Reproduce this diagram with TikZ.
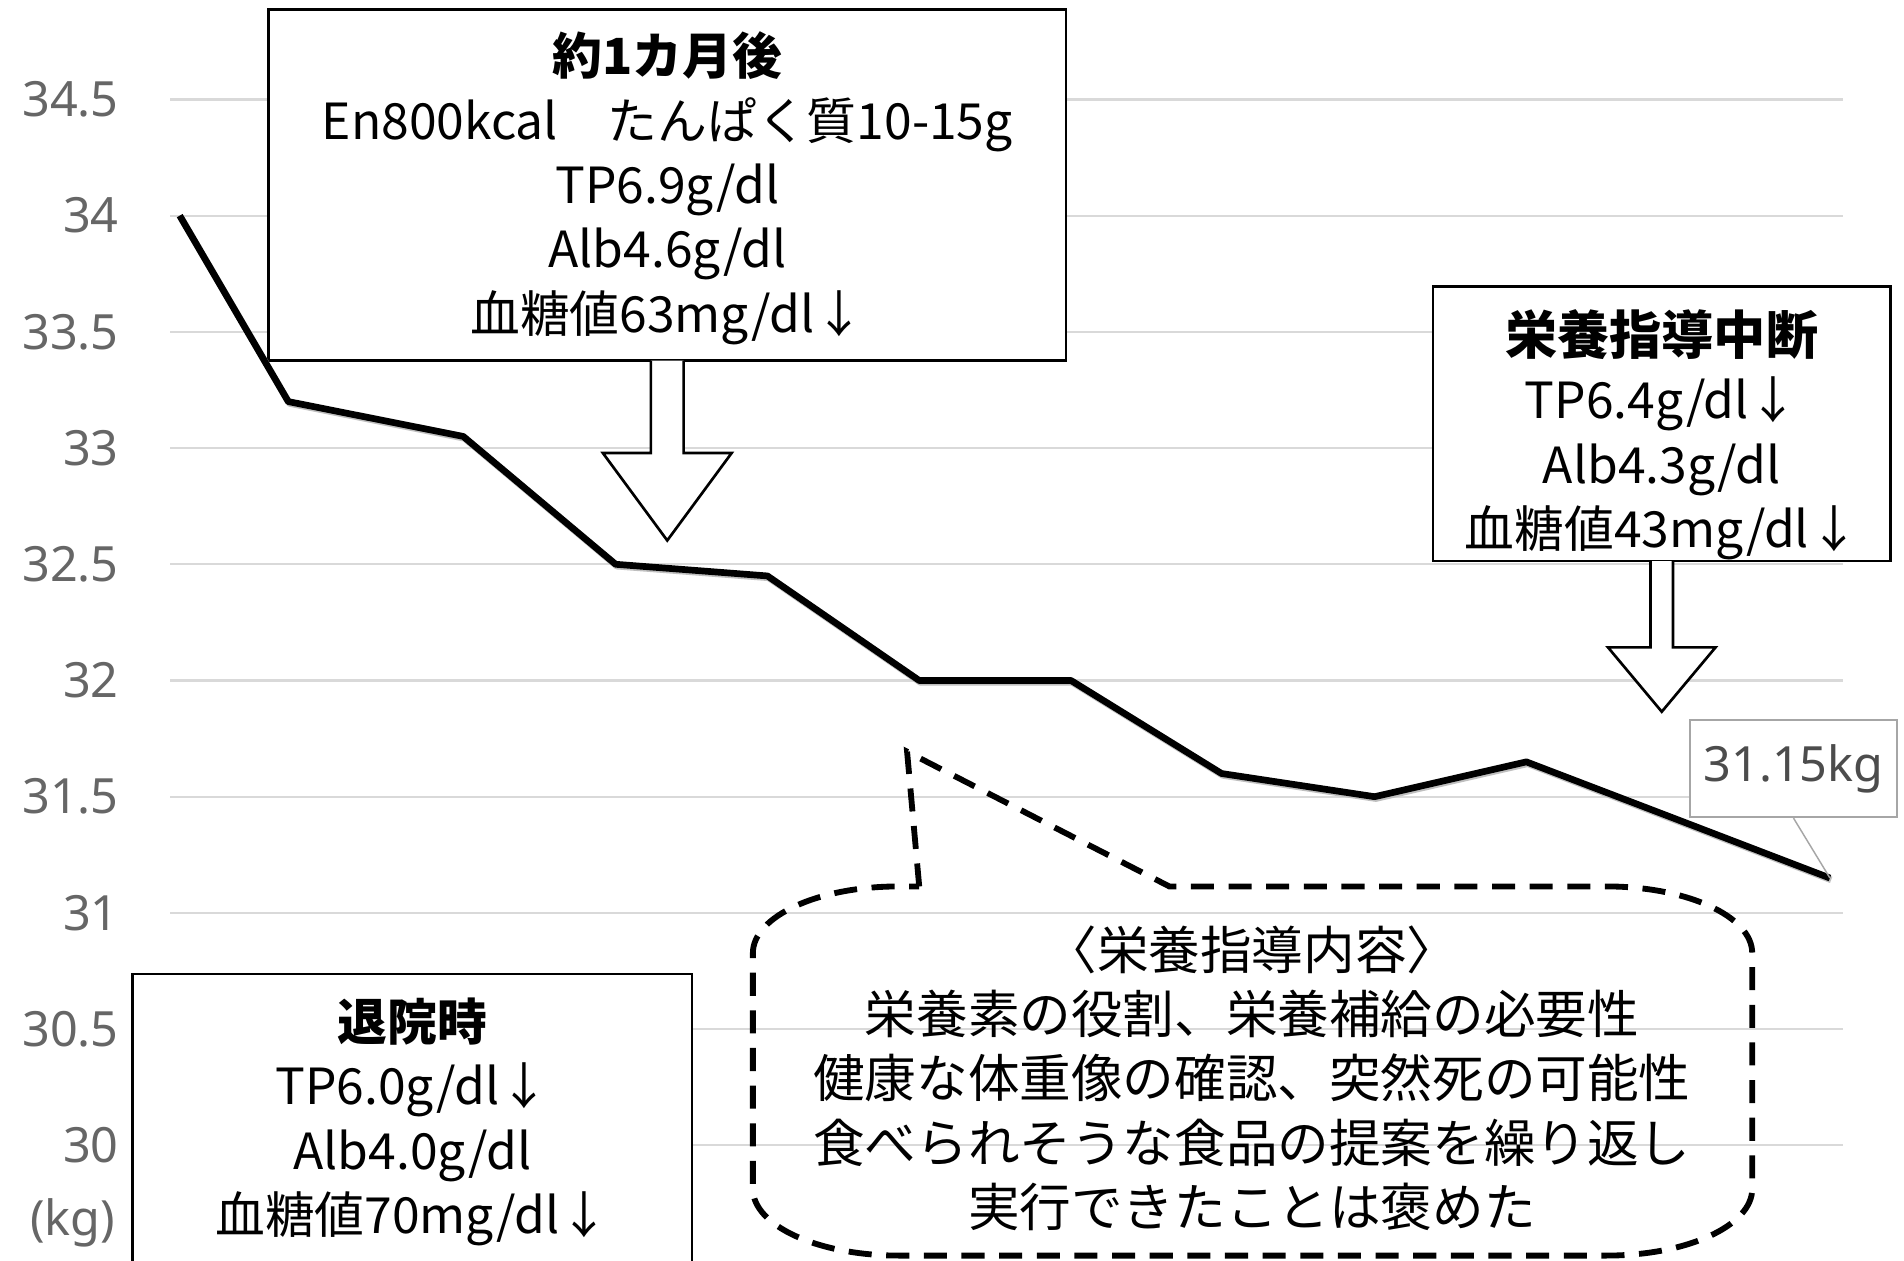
\documentclass[tikz,border=0pt]{standalone}
\usepackage{fontspec}
\setmainfont{Noto Sans CJK JP}
\newfontfamily\ticksfont{Noto Sans}
\usetikzlibrary{calc}

\tikzset{
  grid line/.style={draw=black!15, line width=1.8pt},
  tick label/.style={anchor=east, text=black!60, inner sep=0pt,
    font=\ticksfont\fontsize{40}{48}\selectfont},
  info box/.style={draw, line width=2.2pt, fill=white, inner sep=0pt},
  info text/.style={align=center, inner sep=0pt,
    font=\fontsize{41}{53}\selectfont},
  weight line/.style={line width=5.5pt, line join=round},
  value box/.style={draw=black!35, line width=1.5pt, fill=white, text=black!70,
    minimum width=170pt, minimum height=80pt, inner sep=0pt,
    font=\ticksfont\fontsize{40}{48}\selectfont},
  talk line/.style={line width=4.8pt, dash pattern=on 19pt off 12pt},
}

\begin{document}
\begin{tikzpicture}[x=1pt, y=-1pt]
\clip (0,0) rectangle (1568,1038);
\fill[white] (0,0) rectangle (1568,1038);

% axis
\foreach \lab [count=\k from 0] in {34.5,34,33.5,33,32.5,32,31.5,31,30.5,30} {
  \draw[grid line] (140,81.9+95.7*\k) -- (1518,81.9+95.7*\k);
  \node[tick label] (tick\k) at (98,81.9+95.7*\k) {\lab};
}
\node[tick label, anchor=center] (unit) at (60,1007) {(kg)};

% boxes
\node[info box, minimum width=657pt, minimum height=289pt] (month) at (549.5,152.5) {};
\begin{scope}[shift={(month.south)}]
\draw[info box] (-13.5,-1.1) -- (-13.5,75) -- (-53,75) -- (0,147) -- (53,75) -- (13.5,75) -- (13.5,-1.1);
\end{scope}
\node[info text] (monthtxt) at (549.5,155) {{\bfseries 約1カ月後}\\
  En800kcal　たんぱく質10-15g\\ TP6.9g/dl\\ Alb4.6g/dl\\ 血糖値63mg/dl↓};

\node[info box, minimum width=377pt, minimum height=226pt] (stop) at (1368.5,349) {};
\begin{scope}[shift={(stop.south)}]
\draw[info box] (-9.3,-1.1) -- (-9.3,70) -- (-44.3,70) -- (0,123) -- (44.3,70) -- (9.3,70) -- (9.3,-1.1);
\end{scope}
\node[info text] (stoptxt) at (1368.5,358) {{\fontsize{43}{53}\selectfont\bfseries 栄養指導中断}\\
  TP6.4g/dl↓\\ Alb4.3g/dl\\ 血糖値43mg/dl↓};

\node[info box, minimum width=461pt, minimum height=268pt] (leave) at (339.5,936) {};
\node[info text] (leavetxt) at (339.5,924) {{\bfseries 退院時}\\
  TP6.0g/dl↓\\ Alb4.0g/dl\\ 血糖値70mg/dl↓};

% weight
\coordinate (p0) at (148,177.6);
\coordinate (p1) at (237.4,330.7);
\coordinate (p2) at (381.5,359.4);
\coordinate (p3) at (507,464.7);
\coordinate (p4) at (632,474.3);
\coordinate (p5) at (757,560.4);
\coordinate (p6) at (882,560.4);
\coordinate (p7) at (1006,637);
\coordinate (p8) at (1132,656.1);
\coordinate (p9) at (1257,627.4);
\coordinate (p10) at (1382,675.2);
\coordinate (p11) at (1507,723.1);
\draw[weight line, black!25, transform canvas={xshift=1pt, yshift=-1.5pt}]
  (p0) -- (p1) -- (p2) -- (p3) -- (p4) -- (p5) -- (p6) -- (p7) -- (p8) -- (p9) -- (p10) -- (p11);
\draw[weight line]
  (p0) -- (p1) -- (p2) -- (p3) -- (p4) -- (p5) -- (p6) -- (p7) -- (p8) -- (p9) -- (p10) -- (p11);

\node[value box] (last) at (1477,633) {31.15kg};
\draw[black!35, line width=1.2pt] (last.south) -- (p11);

% talk
\coordinate (tip) at (747,619);
\draw[talk line] (757,730) -- (tip) -- (963,730) -- (1323,730)
  .. controls (1389.3,730) and (1443,754.6) .. (1443,785) -- (1443,979)
  .. controls (1443,1009.4) and (1389.3,1034) .. (1323,1034) -- (740,1034)
  .. controls (673.7,1034) and (620,1009.4) .. (620,979) -- (620,785)
  .. controls (620,754.6) and (673.7,730) .. (740,730) -- cycle;
\node[info text, font=\fontsize{42.5}{53}\selectfont] (talk) at (1031,888) {〈栄養指導内容〉\\
  栄養素の役割、栄養補給の必要性\\ 健康な体重像の確認、突然死の可能性\\
  食べられそうな食品の提案を繰り返し\\ 実行できたことは褒めた};
\end{tikzpicture}
\end{document}
